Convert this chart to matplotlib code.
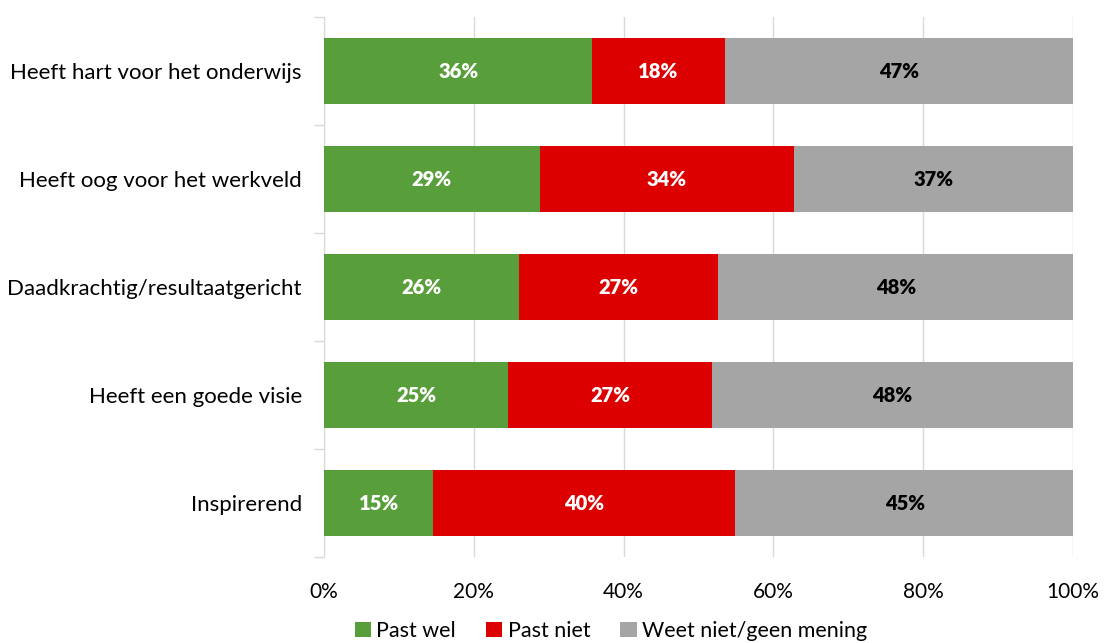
import matplotlib
matplotlib.use("Agg")
import matplotlib.pyplot as plt
from matplotlib.patches import Patch

categories = ["Heeft hart voor het onderwijs", "Heeft oog voor het werkveld",
              "Daadkrachtig/resultaatgericht", "Heeft een goede visie", "Inspirerend"]
past_wel = [35.8, 28.8, 26.0, 24.6, 14.6]
past_niet = [17.7, 33.9, 26.6, 27.2, 40.3]
weet_niet = [46.6, 37.3, 47.6, 48.2, 45.3]
series_names = ["Past wel", "Past niet", "Weet niet/geen mening"]
colors = ["#589E3A", "#DD0000", "#A5A5A5"]
label_colors = ["white", "white", "black"]
xticks = [0, 20, 40, 60, 80, 100]
xtick_labels = ["0%", "20%", "40%", "60%", "80%", "100%"]

plt.rcParams['font.family'] = ['Lato', 'DejaVu Sans']

fig = plt.figure(figsize=(11.05, 6.43), dpi=100)
ax = fig.add_axes([324/1105, 1-557/643, (1073-324)/1105, (557-17)/643])

ypos = list(range(len(categories)))
left = [0]*len(categories)
for vals, name, col, lc in zip([past_wel, past_niet, weet_niet], series_names, colors, label_colors):
    bars = ax.barh(ypos, vals, left=left, height=0.62, color=col, label=name, zorder=3)
    for b, v in zip(bars, vals):
        ax.text(b.get_x() + b.get_width()/2, b.get_y() + b.get_height()/2,
                f"{v:.0f}%", ha='center', va='center', color=lc,
                fontsize=14.5, fontweight='heavy', zorder=4)
    left = [l + v for l, v in zip(left, vals)]

ax.set_xlim(0, 100)
ax.set_ylim(len(categories)-0.5, -0.5)
ax.set_xticks(xticks)
ax.set_xticklabels(xtick_labels, fontsize=15)
ax.set_yticks(ypos)
ax.set_yticklabels(categories, fontsize=16)
ax.tick_params(axis='y', length=0, pad=16)
ax.tick_params(axis='x', length=0, pad=18)
# minor ticks at category boundaries
ax.set_yticks([i - 0.5 for i in range(len(categories)+1)], minor=True)
ax.tick_params(axis='y', which='minor', length=7, color='#D9D9D9', width=1)
ax.grid(axis='x', color='#D9D9D9', linewidth=1, zorder=0)
for s in ['top', 'right', 'bottom']:
    ax.spines[s].set_visible(False)
ax.spines['left'].set_color('#D9D9D9')

handles = [Patch(facecolor=c, label=n) for c, n in zip(colors, series_names)]
fig.legend(handles=handles, loc='center', bbox_to_anchor=(611/1105, 1-631/643), ncol=3,
           frameon=False, fontsize=15.5, handlelength=0.75, handleheight=0.75,
           handletextpad=0.25, columnspacing=1.4)

fig.text(547/1105, 1+4/643, "(n=…)", ha='center', va='baseline', fontsize=16)

fig.savefig("out.png", dpi=100)
